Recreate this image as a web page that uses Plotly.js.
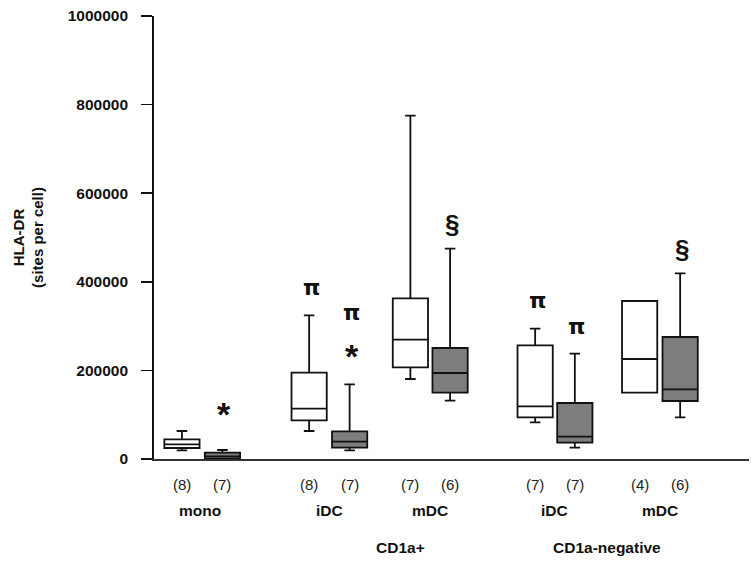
<!DOCTYPE html>
<html>
<head>
<meta charset="utf-8">
<script src="https://cdn.plot.ly/plotly-3.0.1.min.js"></script>
<style>html,body{margin:0;padding:0;background:#fff;}#chart{width:754px;height:564px;}</style>
</head>
<body>
<div id="chart"></div>
<script>
// ---- data ----
var boxNames   = ["mono +", "mono -", "CD1a+ iDC +", "CD1a+ iDC -", "CD1a+ mDC +", "CD1a+ mDC -", "CD1a- iDC +", "CD1a- iDC -", "CD1a- mDC +", "CD1a- mDC -"];
var lowerWhisk = [19600, 500,   63200, 19600, 180600, 131600,  82800, 25500, 149700,  94100];
var q1Values   = [24800, 1000,  87400, 25500, 207000, 149700,  94100, 36800, 149700, 130900];
var medians    = [33200, 6100, 113500, 39000, 269300, 194100, 119000, 50300, 225700, 157300];
var q3Values   = [44500, 14200,194800, 62500, 362800, 250600, 256700,126400, 356700, 275400];
var upperWhisk = [63200, 20300,324400,168600, 775000, 474700, 294100,237700, 356700, 419200];
var nLabels    = ["(8)", "(7)", "(8)", "(7)", "(7)", "(6)", "(7)", "(7)", "(4)", "(6)"];
var isShaded   = [false, true, false, true, false, true, false, true, false, true];
var groupLabels = ["mono", "iDC", "mDC", "iDC", "mDC"];
var superGroupLabels = ["CD1a+", "CD1a-negative"];
var yTicks = [0, 200000, 400000, 600000, 800000, 1000000];
// significance symbols: [box index, symbol, y value]
var sigBox   = [1, 2, 3, 3, 5, 6, 7, 9];
var sigText  = ["*", "π", "π", "*", "§", "π", "π", "§"];
var sigY     = [121000, 387000, 330000, 252000, 530000, 357000, 299000, 475000];

// ---- layout positions (slot units along the x axis) ----
var xPos = [1, 2, 4.14, 5.14, 6.64, 7.62, 9.72, 10.7, 12.3, 13.3];
var groupPos = [1.45, 4.64, 7.13, 10.21, 12.8];
var superPos = [6.4, 11.5];

var traces = boxNames.map(function (nm, i) {
  return {
    type: "box",
    name: nm,
    x: [xPos[i]],
    q1: [q1Values[i]],
    median: [medians[i]],
    q3: [q3Values[i]],
    lowerfence: [lowerWhisk[i]],
    upperfence: [upperWhisk[i]],
    width: 0.87,
    whiskerwidth: 0.3,
    fillcolor: isShaded[i] ? "#7d7d7d" : "#ffffff",
    line: { color: "#111111", width: 1.8 },
    boxpoints: false,
    showlegend: false,
    hoverinfo: "skip"
  };
});

var annotations = [];
nLabels.forEach(function (t, i) {
  annotations.push({ x: xPos[i], y: -0.058, xref: "x", yref: "paper", text: t, showarrow: false,
    font: { family: "Liberation Sans, Arial, sans-serif", size: 15, color: "#222" }, yanchor: "middle" });
});
groupLabels.forEach(function (t, i) {
  annotations.push({ x: groupPos[i], y: -0.117, xref: "x", yref: "paper", text: "<b>" + t + "</b>", showarrow: false,
    font: { family: "Liberation Sans, Arial, sans-serif", size: 15.5, color: "#111" }, yanchor: "middle" });
});
superGroupLabels.forEach(function (t, i) {
  annotations.push({ x: superPos[i], y: -0.199, xref: "x", yref: "paper", text: "<b>" + t + "</b>", showarrow: false,
    font: { family: "Liberation Sans, Arial, sans-serif", size: 15.5, color: "#111" }, yanchor: "middle" });
});
sigBox.forEach(function (b, k) {
  var s = sigText[k];
  annotations.push({ x: xPos[b] + 0.05, y: sigY[k], xref: "x", yref: "y", text: "<b>" + s + "</b>", showarrow: false,
    font: { family: s === "π" ? "DejaVu Sans, sans-serif" : "Liberation Sans, Arial, sans-serif",
      size: s === "*" ? 34 : (s === "§" ? 26 : 22), color: "#111" },
    yanchor: "middle", yshift: s === "*" ? -9 : 0 });
});

var layout = {
  width: 754, height: 564,
  margin: { l: 154, r: 5, t: 16, b: 105 },
  paper_bgcolor: "#ffffff", plot_bgcolor: "#ffffff",
  xaxis: { range: [0.31, 15.0], showline: true, linecolor: "#333", linewidth: 2, showticklabels: false,
    ticks: "", showgrid: false, zeroline: false, fixedrange: true },
  yaxis: { range: [0, 1000000], tickvals: yTicks, ticktext: yTicks.map(String), showline: true, linecolor: "#111",
    linewidth: 1.8, ticks: "outside", ticklen: 11, tickwidth: 1.6, tickcolor: "#111", showgrid: false, zeroline: false,
    ticklabelstandoff: 10,
    tickfont: { family: "Liberation Sans, Arial, sans-serif", size: 15.5, color: "#111", weight: "bold" },
    title: { text: "<b>HLA-DR</b><br><b>(sites per cell)</b>", standoff: 20,
      font: { family: "Liberation Sans, Arial, sans-serif", size: 15, color: "#111" } } },
  annotations: annotations,
  showlegend: false
};

Plotly.newPlot("chart", traces, layout, { displayModeBar: false, staticPlot: true });
</script>
</body>
</html>
